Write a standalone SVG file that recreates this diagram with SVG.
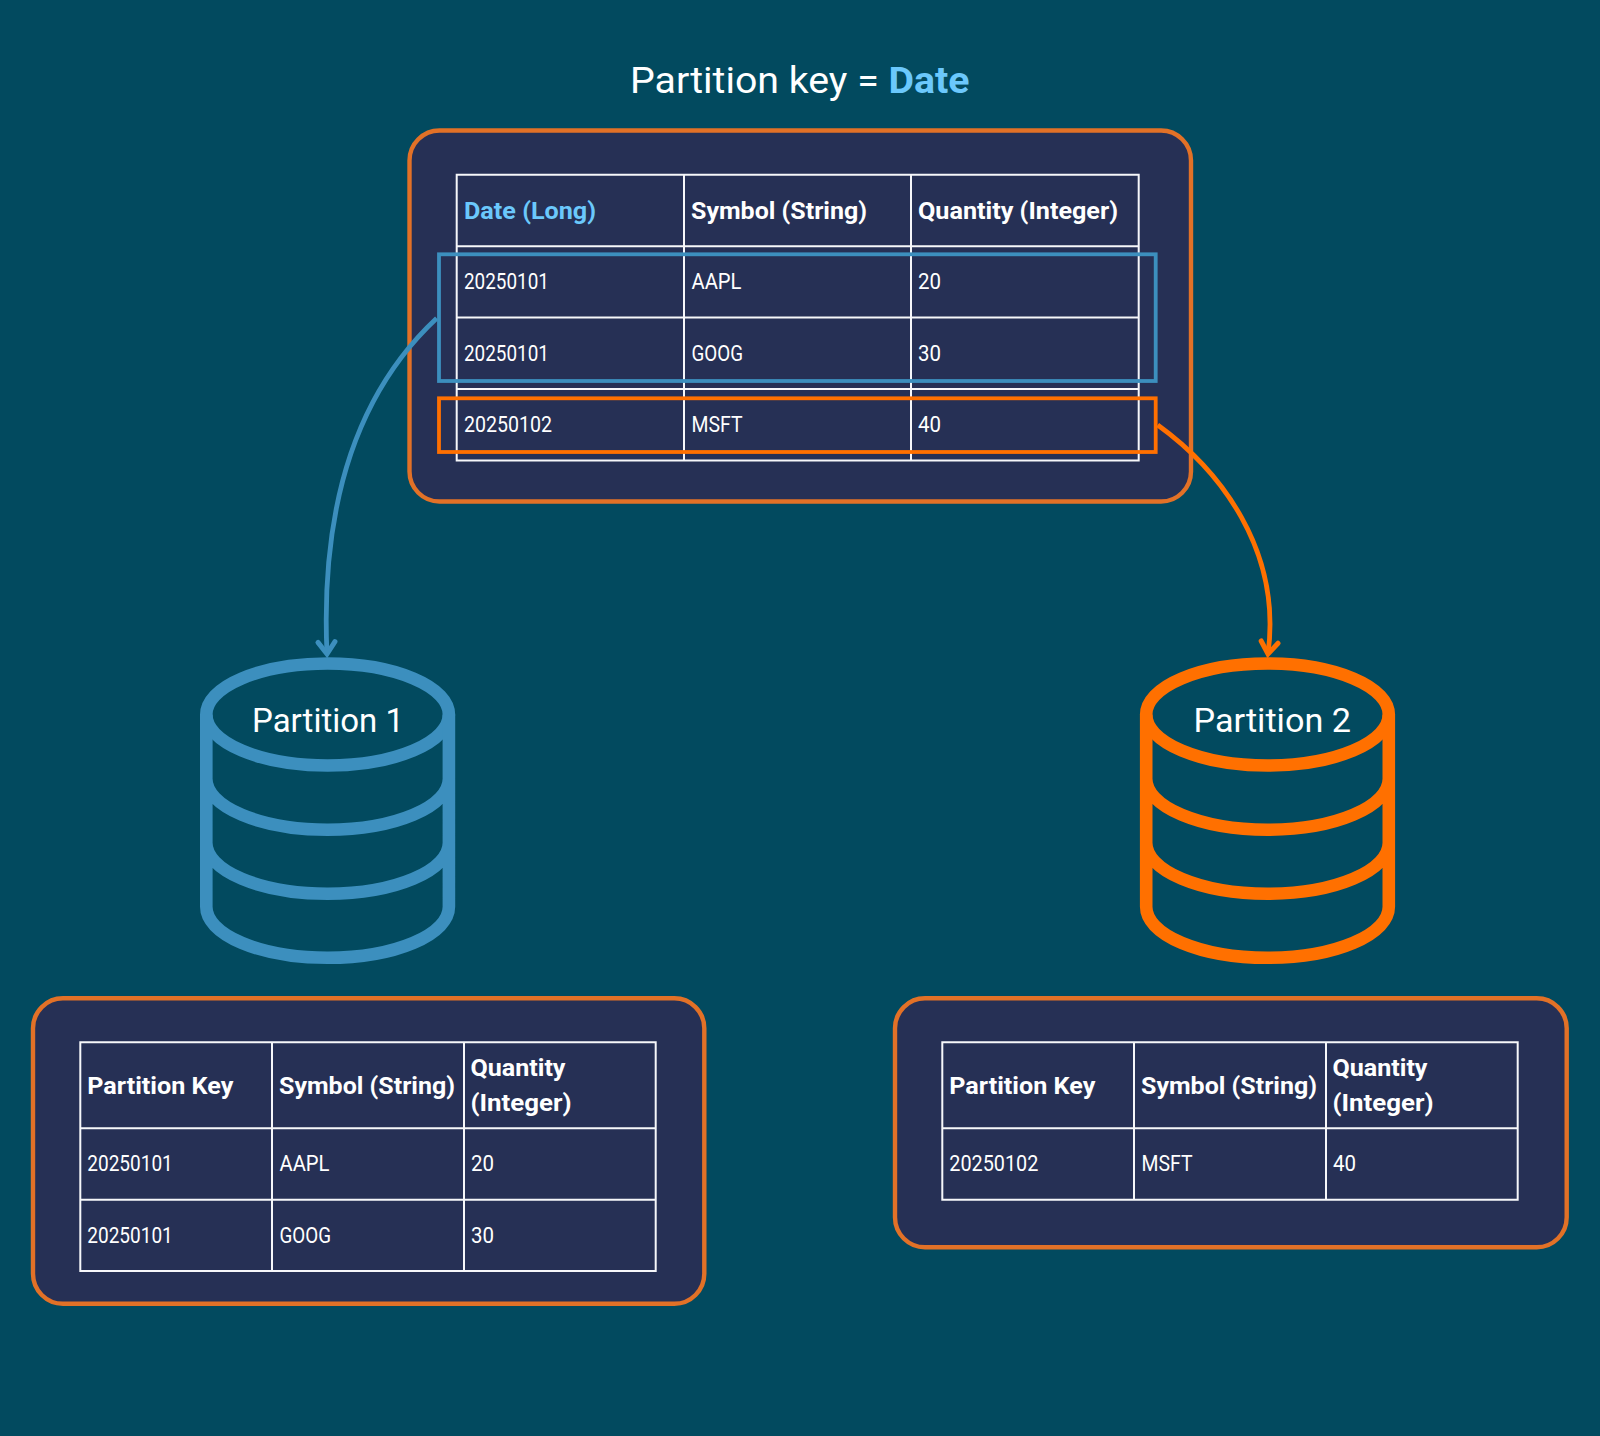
<svg xmlns="http://www.w3.org/2000/svg" xmlns:xlink="http://www.w3.org/1999/xlink" width="1600" height="1436" viewBox="0 0 1600 1436">
<style>
text{font-family:Roboto,"Liberation Sans",sans-serif;fill:#fff;}
.title{font-size:37.5px;}
.part{font-size:33px;}
.h{font-size:24px;font-weight:700;}
.d{font-size:22.5px;font-weight:400;}
.accent{fill:#6bc8fc;font-weight:700;}
.panel{fill:#263055;stroke:#e27127;stroke-width:4.4;}
.grid{fill:none;stroke:#f6f7fa;stroke-width:2;}
.hb{fill:none;stroke:#3c8fbe;stroke-width:3.8;}
.ho{fill:none;stroke:#ff7000;stroke-width:3.8;}
.cyl{fill:none;stroke-width:12.6;}
.cb{fill:none;stroke:#3c8fbe;stroke-width:4.8;}
.co{fill:none;stroke:#ff7000;stroke-width:4.8;}
.chev{fill:none;stroke-width:5;stroke-linecap:round;}
</style>
<defs>
<marker id="arrow-blue" markerUnits="userSpaceOnUse" markerWidth="30" markerHeight="30" viewBox="-20 -15 30 30" refX="0" refY="0" orient="auto"><path class="chev" stroke="#3c8fbe" d="M-12 -8.5L0 0L-12 8.5"/></marker>
<marker id="arrow-orange" markerUnits="userSpaceOnUse" markerWidth="30" markerHeight="30" viewBox="-20 -15 30 30" refX="0" refY="0" orient="auto"><path class="chev" stroke="#ff7000" d="M-12 -8.5L0 0L-12 8.5"/></marker>
<g id="cyl-shape">
<ellipse cx="0" cy="714.5" rx="121.3" ry="51"/>
<path d="M-121.3 714.5V906.8A121.3 51 0 0 0 121.3 906.8V714.5M-121.3 778.7A121.3 51 0 0 0 121.3 778.7M-121.3 842.7A121.3 51 0 0 0 121.3 842.7"/>
</g>
</defs>
<rect width="1600" height="1436" fill="#024a5f"/>
<g id="title"><text class="title" x="630" y="93.3" textLength="339.5" lengthAdjust="spacingAndGlyphs">Partition key = <tspan class="accent">Date</tspan></text></g>
<g id="source-table">
<rect class="panel" x="409.5" y="130.5" width="781.5" height="371" rx="30"/>
<path class="grid" d="M456.7 174.7H1138.7V460.6H456.7ZM684 174.7V460.6M911 174.7V460.6M456.7 246.2H1138.7M456.7 317.6H1138.7M456.7 389H1138.7"/>
<text class="h accent" x="464" y="218.8" textLength="132" lengthAdjust="spacingAndGlyphs">Date (Long)</text>
<text class="h" x="691" y="218.8" textLength="176" lengthAdjust="spacingAndGlyphs">Symbol (String)</text>
<text class="h" x="918" y="218.8" textLength="200" lengthAdjust="spacingAndGlyphs">Quantity (Integer)</text>
<text class="d" x="464" y="289.3" textLength="85" lengthAdjust="spacingAndGlyphs">20250101</text>
<text class="d" x="691.5" y="289.3" textLength="50" lengthAdjust="spacingAndGlyphs">AAPL</text>
<text class="d" x="918" y="289.3" textLength="23" lengthAdjust="spacingAndGlyphs">20</text>
<text class="d" x="464" y="361" textLength="85" lengthAdjust="spacingAndGlyphs">20250101</text>
<text class="d" x="691.5" y="361" textLength="51.5" lengthAdjust="spacingAndGlyphs">GOOG</text>
<text class="d" x="918" y="361" textLength="23" lengthAdjust="spacingAndGlyphs">30</text>
<text class="d" x="464" y="432" textLength="88" lengthAdjust="spacingAndGlyphs">20250102</text>
<text class="d" x="691.5" y="432" textLength="51" lengthAdjust="spacingAndGlyphs">MSFT</text>
<text class="d" x="918" y="432" textLength="23" lengthAdjust="spacingAndGlyphs">40</text>
</g>
<g id="highlight-partition-1"><rect class="hb" x="439" y="254.3" width="716.7" height="126.7"/></g>
<g id="highlight-partition-2"><rect class="ho" x="439" y="398.3" width="716.7" height="53.7"/></g>
<g id="connectors">
<path class="cb" d="M436.7 318.3C360 390 320 500 327 654" marker-end="url(#arrow-blue)"/>
<path class="co" d="M1157.7 425C1220 470 1282 550 1268 654" marker-end="url(#arrow-orange)"/>
</g>
<g id="partition-1">
<use xlink:href="#cyl-shape" href="#cyl-shape" class="cyl" stroke="#3c8fbe" transform="translate(327.6 0)"/>
<text class="part" x="252" y="732" textLength="152" lengthAdjust="spacingAndGlyphs">Partition 1</text>
</g>
<g id="partition-2">
<use xlink:href="#cyl-shape" href="#cyl-shape" class="cyl" stroke="#ff7000" transform="translate(1267.5 0)"/>
<text class="part" x="1193.5" y="732" textLength="157.5" lengthAdjust="spacingAndGlyphs">Partition 2</text>
</g>
<g id="partition-1-table">
<rect class="panel" x="33" y="998.3" width="671.3" height="305.5" rx="30"/>
<path class="grid" d="M80.3 1042.3H655.7V1271H80.3ZM272 1042.3V1271M464 1042.3V1271M80.3 1128.3H655.7M80.3 1199.7H655.7"/>
<text class="h" x="87.3" y="1094" textLength="146" lengthAdjust="spacingAndGlyphs">Partition Key</text>
<text class="h" x="279" y="1094" textLength="176" lengthAdjust="spacingAndGlyphs">Symbol (String)</text>
<text class="h" x="470.5" y="1076" textLength="95" lengthAdjust="spacingAndGlyphs">Quantity</text>
<text class="h" x="470.5" y="1111" textLength="101" lengthAdjust="spacingAndGlyphs">(Integer)</text>
<text class="d" x="87.3" y="1171" textLength="85.5" lengthAdjust="spacingAndGlyphs">20250101</text>
<text class="d" x="279.5" y="1171" textLength="50" lengthAdjust="spacingAndGlyphs">AAPL</text>
<text class="d" x="471" y="1171" textLength="23" lengthAdjust="spacingAndGlyphs">20</text>
<text class="d" x="87.3" y="1243" textLength="85.5" lengthAdjust="spacingAndGlyphs">20250101</text>
<text class="d" x="279.5" y="1243" textLength="51.5" lengthAdjust="spacingAndGlyphs">GOOG</text>
<text class="d" x="471" y="1243" textLength="23" lengthAdjust="spacingAndGlyphs">30</text>
</g>
<g id="partition-2-table">
<rect class="panel" x="895" y="998.3" width="671.7" height="249" rx="30"/>
<path class="grid" d="M942.3 1042.3H1517.7V1199.7H942.3ZM1134 1042.3V1199.7M1326 1042.3V1199.7M942.3 1128.3H1517.7"/>
<text class="h" x="949.3" y="1094" textLength="146" lengthAdjust="spacingAndGlyphs">Partition Key</text>
<text class="h" x="1141" y="1094" textLength="176" lengthAdjust="spacingAndGlyphs">Symbol (String)</text>
<text class="h" x="1332.5" y="1076" textLength="95" lengthAdjust="spacingAndGlyphs">Quantity</text>
<text class="h" x="1332.5" y="1111" textLength="101" lengthAdjust="spacingAndGlyphs">(Integer)</text>
<text class="d" x="949.3" y="1171" textLength="89" lengthAdjust="spacingAndGlyphs">20250102</text>
<text class="d" x="1141.5" y="1171" textLength="51" lengthAdjust="spacingAndGlyphs">MSFT</text>
<text class="d" x="1333" y="1171" textLength="23" lengthAdjust="spacingAndGlyphs">40</text>
</g>
</svg>
